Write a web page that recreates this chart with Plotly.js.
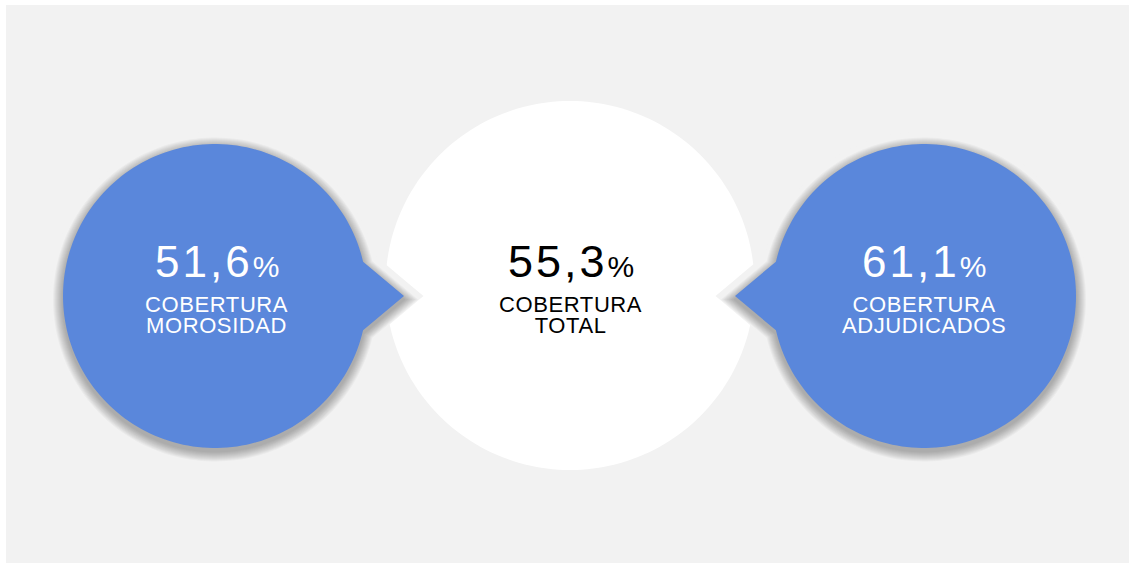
<!DOCTYPE html>
<html>
<head>
<meta charset="utf-8">
<script src="https://cdn.plot.ly/plotly-3.0.1.min.js"></script>
<style>
  html, body { margin: 0; padding: 0; background: #ffffff; }
  #chart { width: 1131px; height: 563px; }
</style>
</head>
<body>
<div id="chart"></div>
<script>
// ---- data ----
const values = [51.6, 55.3, 61.1];
const labelLine1 = ['COBERTURA', 'COBERTURA', 'COBERTURA'];
const labelLine2 = ['MOROSIDAD', 'TOTAL', 'ADJUDICADOS'];

// ---- layout constants ----
const W = 1131, H = 563;
const BLUE = '#5a87db';
const PANEL = '#f2f2f2';
const sideCircles = [
  { cx: 215, cy: 296, r: 152, dir: 1 },   // pointer to the right
  { cx: 924, cy: 296, r: 152, dir: -1 }   // pointer to the left
];
const center = { cx: 570, cy: 285.5, r: 184.5 };
const TIP = 189, HALF = 40 * Math.PI / 180;

function blobPath(cx, cy, r, dir, T, a, dy) {
  const tipX = cx + dir * T, tipY = cy + dy;
  const t = T * Math.cos(a) - Math.sqrt(T * T * Math.cos(a) ** 2 - T * T + r * r);
  const bx = T - t * Math.cos(a), by = t * Math.sin(a);
  const beta = Math.atan2(by, bx);
  let p = 'M' + tipX.toFixed(2) + ',' + tipY.toFixed(2);
  const n = 180;
  for (let i = 0; i <= n; i++) {
    const s = beta + (2 * Math.PI - 2 * beta) * i / n;
    const ang = dir > 0 ? -s : -Math.PI + s;
    p += ' L' + (cx + r * Math.cos(ang)).toFixed(2) + ',' + (cy + dy + r * Math.sin(ang)).toFixed(2);
  }
  return p + ' Z';
}
function circlePath(cx, cy, r) {
  let p = '';
  const n = 200;
  for (let i = 0; i <= n; i++) {
    const ang = 2 * Math.PI * i / n;
    p += (i ? ' L' : 'M') + (cx + r * Math.cos(ang)).toFixed(2) + ',' + (cy + r * Math.sin(ang)).toFixed(2);
  }
  return p + ' Z';
}

const shapes = [];
// background panel
shapes.push({ type: 'rect', xref: 'x', yref: 'y', x0: 6, y0: 5, x1: 1129, y1: 563,
  fillcolor: PANEL, line: { width: 0 }, layer: 'below' });
// white centre circle
shapes.push({ type: 'path', xref: 'x', yref: 'y', path: circlePath(center.cx, center.cy, center.r),
  fillcolor: '#ffffff', line: { width: 0 }, layer: 'below' });
sideCircles.forEach(c => {
  // gap (background coloured halo) cutting into centre circle
  shapes.push({ type: 'path', xref: 'x', yref: 'y', path: blobPath(c.cx, c.cy, c.r, c.dir, TIP, HALF, 0),
    fillcolor: PANEL, line: { color: PANEL, width: 25 }, layer: 'below' });
  // soft shadow
  for (let k = 10; k >= 1; k--) {
    shapes.push({ type: 'path', xref: 'x', yref: 'y',
      path: blobPath(c.cx, c.cy, c.r + k, c.dir, TIP + k * 1.4, HALF, 3.5),
      fillcolor: 'rgba(0,0,0,0.032)', line: { width: 0 }, layer: 'below' });
  }
  // blue shape
  shapes.push({ type: 'path', xref: 'x', yref: 'y', path: blobPath(c.cx, c.cy, c.r, c.dir, TIP, HALF, 0),
    fillcolor: BLUE, line: { width: 0 }, layer: 'below' });
});

const numX = [217, 571, 924];
const labX = [216, 570, 924];
const textColor = ['#ffffff', '#000000', '#ffffff'];
const numSize = [44, 45, 44];
const FONT = 'Liberation Sans, Arial, sans-serif';
const annotations = [];
values.forEach((v, i) => {
  const s = v.toFixed(1).replace('.', ',');
  annotations.push({ xref: 'x', yref: 'y', x: numX[i], y: 261, xanchor: 'center', yanchor: 'middle',
    showarrow: false,
    text: '<span style="letter-spacing:3px">' + s + '</span><span style="font-size:30px">%</span>',
    font: { family: FONT, size: numSize[i], color: textColor[i] } });
  const ls = 'font-size:22px;letter-spacing:0.6px';
  annotations.push({ xref: 'x', yref: 'y', x: labX[i], y: 315, xanchor: 'center', yanchor: 'middle',
    showarrow: false, align: 'center',
    text: '<span style="' + ls + '">' + labelLine1[i] + '</span><br><span style="' + ls + '">' + labelLine2[i] + '</span>',
    font: { family: FONT, size: 16.2, color: textColor[i] } });
});

const layout = {
  width: W, height: H,
  margin: { l: 0, r: 0, t: 0, b: 0, pad: 0 },
  paper_bgcolor: '#ffffff', plot_bgcolor: 'rgba(0,0,0,0)',
  xaxis: { range: [0, W], visible: false, fixedrange: true },
  yaxis: { range: [H, 0], visible: false, fixedrange: true },
  showlegend: false,
  shapes: shapes,
  annotations: annotations
};
Plotly.newPlot('chart', [], layout, { staticPlot: true, displayModeBar: false });
</script>
</body>
</html>
